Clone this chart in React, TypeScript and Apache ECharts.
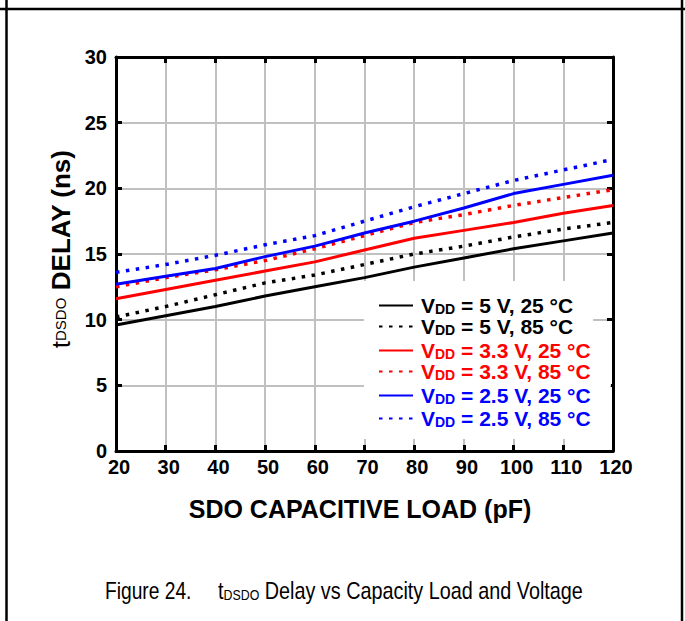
import React, { useEffect, useRef } from 'react';
import * as echarts from 'echarts';

const loads = [20, 30, 40, 50, 60, 70, 80, 90, 100, 110, 120];
const v5_25 = [9.6, 10.3, 11.0, 11.8, 12.5, 13.2, 14.0, 14.7, 15.4, 16.0, 16.6];
const v5_85 = [10.2, 11.0, 11.9, 12.8, 13.4, 14.2, 15.0, 15.6, 16.3, 16.9, 17.4];
const v33_25 = [11.6, 12.3, 13.0, 13.7, 14.4, 15.3, 16.2, 16.8, 17.4, 18.1, 18.7];
const v33_85 = [12.5, 13.2, 13.8, 14.5, 15.4, 16.4, 17.4, 18.0, 18.7, 19.3, 19.9];
const v25_25 = [12.7, 13.3, 13.9, 14.8, 15.6, 16.6, 17.5, 18.5, 19.6, 20.3, 21.0];
const v25_85 = [13.6, 14.2, 14.9, 15.7, 16.4, 17.5, 18.6, 19.6, 20.6, 21.4, 22.2];

const seriesNames = [
  'VDD = 5 V, 25 °C',
  'VDD = 5 V, 85 °C',
  'VDD = 3.3 V, 25 °C',
  'VDD = 3.3 V, 85 °C',
  'VDD = 2.5 V, 25 °C',
  'VDD = 2.5 V, 85 °C',
];
const seriesValues = [v5_25, v5_85, v33_25, v33_85, v25_25, v25_85];
const seriesColorKeys = ['k', 'k', 'r', 'r', 'b', 'b'];
const seriesDotted = [false, true, false, true, false, true];

const xTitle = 'SDO CAPACITIVE LOAD (pF)';
const captionLead = 'Figure 24.';
const captionRest = ' Delay vs Capacity Load and Voltage';

const FONT = 'Arial, "Liberation Sans", Helvetica, sans-serif';
const COLORS: Record<string, string> = { k: '#000000', r: '#ff0000', b: '#0000ff' };

export default function App() {
  const ref = useRef<HTMLDivElement>(null);
  useEffect(() => {
    if (!ref.current) return;
    const chart = echarts.init(ref.current, null, { renderer: 'svg' });

    const rich: Record<string, any> = {};
    Object.keys(COLORS).forEach((k) => {
      rich['v' + k] = { fontSize: 21, fontWeight: 'bold', fontFamily: FONT, color: COLORS[k], lineHeight: 20 };
      rich['d' + k] = { fontSize: 14, fontWeight: 'bold', fontFamily: FONT, color: COLORS[k], lineHeight: 20, verticalAlign: 'bottom' };
    });

    const legendCommon = {
      orient: 'vertical',
      left: 364,
      itemWidth: 34,
      itemHeight: 20,
      backgroundColor: '#ffffff',
      selectedMode: false,
      itemStyle: { opacity: 0, borderWidth: 0 },
      textStyle: { fontSize: 21, fontWeight: 'bold', fontFamily: FONT, lineHeight: 20, padding: [0, 0, 0, 3], rich },
      formatter: (name: string) => {
        const i = seriesNames.indexOf(name);
        const k = seriesColorKeys[i];
        return `{v${k}|V}{d${k}|DD}{v${k}|${name.slice(3)}}`;
      },
    };

    const axisLineStyle = { show: true, onZero: false, lineStyle: { color: '#000', width: 3 } };
    const tickStyle = { show: true, inside: true, length: 6, lineStyle: { color: '#000', width: 3 } };
    const gridLine = { show: true, lineStyle: { color: '#c0c0c0', width: 2 } };
    const labelStyle = { color: '#000', fontWeight: 'bold', fontSize: 20, fontFamily: FONT };

    chart.setOption({
      animation: false,
      backgroundColor: '#ffffff',
      grid: { left: 116, right: 72, top: 57, bottom: 170, containLabel: false },
      xAxis: [
        {
          type: 'value', min: 20, max: 120, interval: 10, position: 'bottom',
          axisLine: axisLineStyle, axisTick: tickStyle, splitLine: gridLine,
          axisLabel: { ...labelStyle, margin: 6, padding: [0, 0, 0, 6] },
          name: xTitle, nameLocation: 'middle', nameGap: 45,
          nameTextStyle: { color: '#000', fontWeight: 'bold', fontSize: 25, fontFamily: FONT, padding: [0, 9, 0, 0] },
        },
        {
          type: 'value', min: 20, max: 120, interval: 10, position: 'top',
          axisLine: axisLineStyle, axisTick: tickStyle, splitLine: { show: false },
          axisLabel: { show: false },
        },
      ],
      yAxis: [
        {
          type: 'value', min: 0, max: 30, interval: 5, position: 'left',
          axisLine: axisLineStyle, axisTick: tickStyle, splitLine: gridLine,
          axisLabel: { ...labelStyle, margin: 9, padding: [8, 0, 0, 0] },
          name: '{t|t}{s|DSDO}{b| DELAY (ns)}', nameLocation: 'middle', nameRotate: 90, nameGap: 37,
          nameTextStyle: {
            color: '#000',
            rich: {
              t: { fontSize: 26, fontFamily: FONT, color: '#000', padding: [0, 0, 0, 10] },
              s: { fontSize: 15, fontFamily: FONT, color: '#000' },
              b: { fontSize: 26, fontFamily: FONT, fontWeight: 'bold', color: '#000' },
            },
          },
        },
        {
          type: 'value', min: 0, max: 30, interval: 5, position: 'right',
          axisLine: axisLineStyle, axisTick: tickStyle, splitLine: { show: false },
          axisLabel: { show: false },
        },
      ],
      legend: [
        { ...legendCommon, data: seriesNames.slice(0, 2), top: 281, padding: [14, 20, 4, 14], itemGap: 0 },
        { ...legendCommon, data: seriesNames.slice(2, 4), top: 339, padding: [1, 20, 4, 14], itemGap: 0 },
        { ...legendCommon, data: seriesNames.slice(4, 6), top: 384, padding: [1, 20, 10, 14], itemGap: 2 },
      ],
      series: seriesNames.map((name, i) => ({
        name,
        type: 'line',
        xAxisIndex: 0,
        yAxisIndex: 0,
        symbol: 'none',
        showSymbol: false,
        data: loads.map((x, j) => [x, seriesValues[i][j]]),
        lineStyle: seriesDotted[i]
          ? { color: COLORS[seriesColorKeys[i]], width: 3.5, type: [3.5, 6.5], cap: 'butt' }
          : { color: COLORS[seriesColorKeys[i]], width: 3, type: 'solid' },
        itemStyle: { color: COLORS[seriesColorKeys[i]] },
        z: 3,
      })),
      graphic: [
        { type: 'line', shape: { x1: 0, y1: 9, x2: 685, y2: 9 }, style: { stroke: '#000', lineWidth: 2.5 } },
        { type: 'line', shape: { x1: 6.5, y1: 0, x2: 6.5, y2: 621 }, style: { stroke: '#000', lineWidth: 2.5 } },
        { type: 'line', shape: { x1: 682, y1: 0, x2: 682, y2: 621 }, style: { stroke: '#000', lineWidth: 2.5 } },
        {
          type: 'text', x: 105, y: 591, scaleX: 0.8,
          style: { text: captionLead, fontSize: 24, fontFamily: FONT, fill: '#000', align: 'left', verticalAlign: 'middle' },
        },
        {
          type: 'text', x: 218, y: 591, scaleX: 0.825,
          style: {
            text: `{t|t}{s|DSDO}{n|${captionRest}}`,
            fill: '#000',
            align: 'left',
            verticalAlign: 'middle',
            rich: {
              t: { fontSize: 24, fontFamily: FONT, fill: '#000', verticalAlign: 'bottom' },
              s: { fontSize: 15, fontFamily: FONT, fill: '#000', verticalAlign: 'bottom' },
              n: { fontSize: 24, fontFamily: FONT, fill: '#000', verticalAlign: 'bottom' },
            },
          },
        },
      ],
    });
    return () => chart.dispose();
  }, []);
  return <div ref={ref} style={{ position: 'absolute', left: 0, top: 0, width: 685, height: 621 }} />;
}
